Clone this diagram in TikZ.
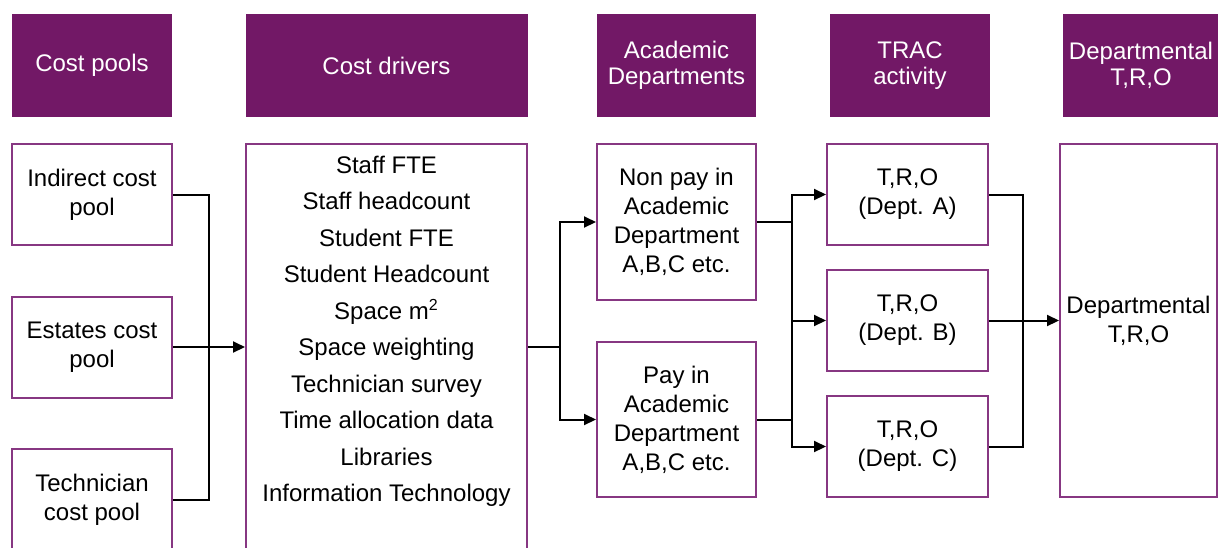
\documentclass[tikz,border=0pt]{standalone}
\usepackage{fontspec}
\setmainfont{Liberation Sans}
\usepackage{xcolor}
\usetikzlibrary{arrows.meta}
\definecolor{tracpurple}{RGB}{114,24,102}
\definecolor{boxpurple}{RGB}{135,55,130}
% column centres (px)
\def\colA{92}
\def\colB{386.5}
\def\colC{676.5}
\def\colD{907.5}
\def\colE{1139}

\begin{document}
\begin{tikzpicture}[x=0.5pt, y=-0.5pt, line width=1pt,
    >={Triangle[length=6pt,width=5.5pt]},
    head/.style={fill=tracpurple, text=white, inner sep=0pt, minimum height=51.5pt,
      align=center, font=\fontsize{12}{13}\selectfont},
    cell/.style={draw=boxpurple, inner sep=0pt, align=center,
      font=\fontsize{12}{14.5}\selectfont}]
    \useasboundingbox (0,0) rectangle (1218,547);
    \clip (0,0) rectangle (1218,547);

    % Cabeceras
    \node[head, minimum width=80pt] (hpools) at (\colA,65.5) {Cost pools};
    \node[head, minimum width=141pt] (hdrivers) at (\colB,65.5) {Cost drivers};
    \node[head, minimum width=79.5pt] (hacad) at (\colC,65.5) {Academic\\Departments};
    \node[head, minimum width=80pt] (htrac) at (910,65.5) {TRAC\\activity};
    \node[head, minimum width=78pt] (hdept) at (1141,65.5) {Departmental\\T,R,O};

    % Cost pools
    \node[cell, minimum width=80pt, minimum height=50.5pt] (indirect) at (\colA,194.5) {Indirect cost\\pool};
    \node[cell, minimum width=80pt, minimum height=50.5pt] (estates) at (\colA,347) {Estates cost\\pool};
    \node[cell, minimum width=80pt, minimum height=50.5pt] (technician) at (\colA,499.5) {Technician\\cost pool};

    % Cost drivers
    \node[cell, minimum width=140.5pt, minimum height=203pt,
      font=\fontsize{12}{18.25}\selectfont] (drivers) at (\colB,347)
      {Staff FTE\\Staff headcount\\Student FTE\\Student Headcount\\Space m\textsuperscript{2}\\
       Space weighting\\Technician survey\\Time allocation data\\Libraries\\Information Technology\\~};

    % Academic departments
    \node[cell, minimum width=79.5pt, minimum height=78pt] (nonpay) at (\colC,222)
      {Non pay in\\Academic\\Department\\A,B,C etc.};
    \node[cell, minimum width=79.5pt, minimum height=77.5pt] (pay) at (\colC,419.5)
      {Pay in\\Academic\\Department\\A,B,C etc.};

    % TRAC activity
    \node[cell, minimum width=80.5pt, minimum height=50.5pt] (trA) at (\colD,194.5) {T,R,O\\(Dept. A)};
    \node[cell, minimum width=80.5pt, minimum height=50.5pt] (trB) at (\colD,320.5) {T,R,O\\(Dept. B)};
    \node[cell, minimum width=80.5pt, minimum height=50.5pt] (trC) at (\colD,446.5) {T,R,O\\(Dept. C)};

    % Departmental T,R,O
    \node[cell, minimum width=78.5pt, minimum height=176.5pt] (dept) at (1138.5,320.5) {Departmental\\T,R,O};

    % Puntos de union
    \coordinate (j1) at (209,347);
    \coordinate (j2) at (560,347);
    \coordinate (j3) at (792,320.5);
    \coordinate (j4) at (1023,320.5);

    % Conectores
    \draw (indirect.east) -| (j1);
    \draw (technician.east) -| (j1);
    \draw[->] (estates.east) -- (drivers.west);

    \draw (drivers.east) -- (j2);
    \draw[->] (j2) |- (nonpay.west);
    \draw[->] (j2) |- (pay.west);

    \draw (nonpay.east) -- (nonpay.east -| j3);
    \draw (pay.east) -- (pay.east -| j3);
    \draw[->] (j3) |- (trA.west);
    \draw[->] (j3) -- (trB.west);
    \draw[->] (j3) |- (trC.west);

    \draw (trA.east) -| (j4);
    \draw (trC.east) -| (j4);
    \draw[->] (trB.east) -- (dept.west);
\end{tikzpicture}
\end{document}
